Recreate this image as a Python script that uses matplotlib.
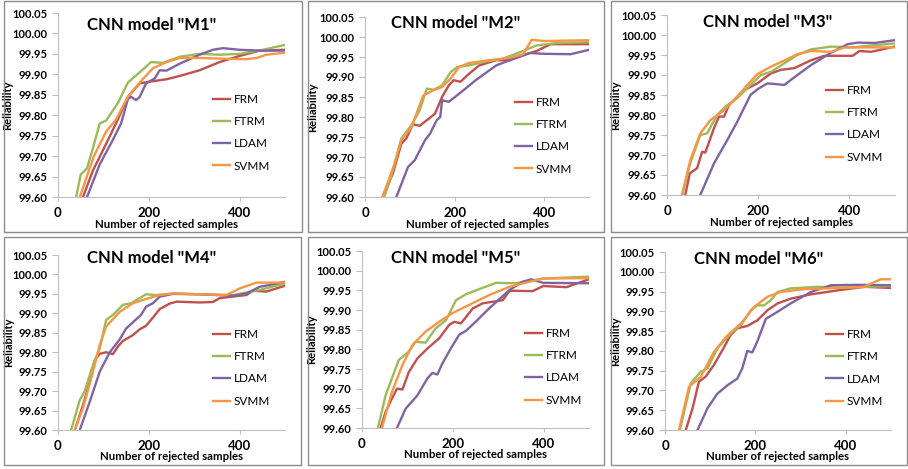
import matplotlib
matplotlib.use("Agg")
import matplotlib.pyplot as plt
from matplotlib.patches import Rectangle

plt.rcParams['font.family'] = ['Lato', 'DejaVu Sans']

series_names = ["FRM", "FTRM", "LDAM", "SVMM"]
series_colors = ["#C0504D", "#9BBB59", "#8064A2", "#F79646"]
panel_titles = ['CNN model "M1"', 'CNN model "M2"', 'CNN model "M3"',
                'CNN model "M4"', 'CNN model "M5"', 'CNN model "M6"']
y_ticks = [99.60, 99.65, 99.70, 99.75, 99.80, 99.85, 99.90, 99.95, 100.00, 100.05]
x_ticks = [0, 200, 400]
x_label = "Number of rejected samples"
y_label = "Reliability"

# ---------------- M1 ----------------
m1_frm_x = [55, 77, 106, 132, 154, 180, 202, 239, 268, 312, 356, 400, 444, 500]
m1_frm_y = [99.60, 99.665, 99.73, 99.79, 99.845, 99.878, 99.882, 99.888, 99.896, 99.91, 99.93, 99.945, 99.958, 99.96]
m1_ftrm_x = [40, 50, 64, 77, 92, 106, 132, 154, 180, 205, 231, 268, 312, 356, 400, 451, 500]
m1_ftrm_y = [99.60, 99.655, 99.67, 99.72, 99.78, 99.787, 99.83, 99.88, 99.905, 99.93, 99.928, 99.943, 99.95, 99.948, 99.95, 99.96, 99.972]
m1_ldam_x = [64, 92, 121, 139, 154, 161, 172, 180, 194, 213, 224, 239, 268, 312, 341, 363, 400, 444, 500]
m1_ldam_y = [99.60, 99.68, 99.74, 99.78, 99.84, 99.845, 99.837, 99.845, 99.878, 99.89, 99.91, 99.909, 99.926, 99.948, 99.96, 99.964, 99.96, 99.958, 99.958]
m1_svmm_x = [48, 79, 106, 128, 154, 180, 209, 239, 268, 312, 371, 415, 437, 459, 500]
m1_svmm_y = [99.60, 99.70, 99.76, 99.79, 99.845, 99.88, 99.915, 99.93, 99.94, 99.94, 99.938, 99.937, 99.94, 99.948, 99.953]

# ---------------- M2 ----------------
m2_frm_x = [39, 62, 81, 92, 107, 122, 138, 156, 172, 187, 198, 213, 232, 255, 293, 323, 346, 383, 414, 504]
m2_frm_y = [99.60, 99.658, 99.733, 99.746, 99.782, 99.778, 99.792, 99.808, 99.85, 99.879, 99.892, 99.888, 99.908, 99.929, 99.942, 99.942, 99.952, 99.965, 99.982, 99.982]
m2_ftrm_x = [43, 58, 81, 104, 122, 138, 153, 172, 191, 206, 232, 262, 308, 346, 383, 429, 504]
m2_ftrm_y = [99.60, 99.65, 99.746, 99.78, 99.817, 99.871, 99.868, 99.879, 99.912, 99.925, 99.929, 99.937, 99.946, 99.962, 99.979, 99.985, 99.987]
m2_ldam_x = [70, 96, 111, 134, 145, 160, 168, 172, 187, 210, 247, 293, 323, 368, 399, 459, 504]
m2_ldam_y = [99.60, 99.675, 99.692, 99.742, 99.758, 99.792, 99.80, 99.842, 99.838, 99.858, 99.892, 99.929, 99.942, 99.96, 99.958, 99.957, 99.969]
m2_svmm_x = [39, 66, 81, 104, 130, 153, 172, 191, 210, 232, 277, 323, 353, 372, 399, 504]
m2_svmm_y = [99.60, 99.683, 99.742, 99.775, 99.854, 99.867, 99.875, 99.896, 99.925, 99.935, 99.942, 99.948, 99.957, 99.993, 99.99, 99.992]

# ---------------- M3 ----------------
m3_frm_x = [40, 50, 66, 77, 84, 103, 114, 125, 136, 169, 198, 228, 250, 279, 316, 345, 389, 407, 422, 448, 499]
m3_frm_y = [99.60, 99.654, 99.667, 99.708, 99.706, 99.767, 99.796, 99.796, 99.825, 99.862, 99.879, 99.904, 99.913, 99.917, 99.937, 99.948, 99.948, 99.948, 99.96, 99.958, 99.971]
m3_ftrm_x = [33, 51, 73, 88, 110, 128, 154, 183, 206, 228, 257, 286, 316, 360, 404, 499]
m3_ftrm_y = [99.60, 99.679, 99.75, 99.754, 99.80, 99.821, 99.842, 99.875, 99.90, 99.908, 99.929, 99.95, 99.964, 99.971, 99.969, 99.979]
m3_ldam_x = [73, 103, 132, 154, 183, 198, 220, 242, 257, 286, 316, 360, 396, 418, 455, 499]
m3_ldam_y = [99.60, 99.679, 99.737, 99.783, 99.85, 99.864, 99.879, 99.877, 99.875, 99.90, 99.925, 99.956, 99.977, 99.981, 99.98, 99.987]
m3_svmm_x = [33, 51, 73, 95, 125, 154, 176, 198, 228, 257, 286, 316, 360, 389, 499]
m3_svmm_y = [99.60, 99.687, 99.754, 99.787, 99.812, 99.846, 99.875, 99.902, 99.921, 99.936, 99.952, 99.96, 99.958, 99.969, 99.969]

# ---------------- M4 ----------------
m4_frm_x = [37, 55, 70, 81, 92, 106, 121, 132, 143, 165, 180, 194, 209, 224, 246, 261, 312, 341, 356, 385, 415, 429, 459, 500]
m4_frm_y = [99.60, 99.664, 99.724, 99.78, 99.796, 99.80, 99.795, 99.815, 99.829, 99.844, 99.859, 99.868, 99.889, 99.911, 99.925, 99.93, 99.928, 99.929, 99.939, 99.943, 99.947, 99.958, 99.956, 99.971]
m4_ftrm_x = [29, 48, 59, 77, 92, 106, 121, 143, 161, 194, 216, 253, 312, 385, 444, 500]
m4_ftrm_y = [99.60, 99.677, 99.70, 99.767, 99.81, 99.883, 99.896, 99.922, 99.926, 99.949, 99.947, 99.951, 99.949, 99.947, 99.96, 99.977]
m4_ldam_x = [48, 70, 92, 114, 136, 150, 165, 183, 194, 209, 224, 253, 312, 385, 415, 444, 500]
m4_ldam_y = [99.60, 99.673, 99.75, 99.80, 99.833, 99.861, 99.877, 99.896, 99.917, 99.926, 99.943, 99.95, 99.949, 99.945, 99.951, 99.968, 99.981]
m4_svmm_x = [37, 55, 77, 92, 106, 136, 165, 194, 224, 253, 312, 371, 400, 437, 500]
m4_svmm_y = [99.60, 99.656, 99.75, 99.819, 99.866, 99.904, 99.926, 99.937, 99.947, 99.951, 99.949, 99.947, 99.964, 99.979, 99.979]

# ---------------- M5 ----------------
m5_frm_x = [41, 52, 66, 77, 89, 103, 122, 144, 170, 192, 203, 218, 244, 266, 310, 325, 376, 399, 450, 502]
m5_frm_y = [99.60, 99.641, 99.675, 99.70, 99.698, 99.742, 99.777, 99.802, 99.828, 99.862, 99.87, 99.866, 99.904, 99.917, 99.925, 99.949, 99.948, 99.961, 99.958, 99.979]
m5_ftrm_x = [35, 52, 81, 103, 118, 140, 162, 185, 207, 229, 258, 295, 339, 399, 502]
m5_ftrm_y = [99.60, 99.683, 99.773, 99.794, 99.819, 99.817, 99.853, 99.874, 99.925, 99.94, 99.953, 99.969, 99.968, 99.98, 99.985]
m5_ldam_x = [77, 96, 122, 144, 155, 166, 177, 196, 214, 229, 251, 280, 325, 354, 373, 399, 502]
m5_ldam_y = [99.60, 99.649, 99.683, 99.726, 99.74, 99.736, 99.764, 99.803, 99.837, 99.847, 99.871, 99.904, 99.951, 99.972, 99.978, 99.969, 99.968]
m5_svmm_x = [44, 66, 89, 111, 140, 170, 199, 236, 280, 325, 369, 399, 502]
m5_svmm_y = [99.60, 99.692, 99.76, 99.811, 99.845, 99.87, 99.892, 99.913, 99.938, 99.959, 99.972, 99.98, 99.981]

# ---------------- M6 ----------------
m6_frm_x = [46, 61, 75, 90, 108, 131, 145, 160, 182, 204, 227, 249, 278, 323, 382, 441, 500]
m6_frm_y = [99.60, 99.655, 99.722, 99.735, 99.764, 99.81, 99.84, 99.857, 99.863, 99.877, 99.903, 99.92, 99.932, 99.943, 99.953, 99.962, 99.959]
m6_ftrm_x = [33, 57, 79, 94, 116, 145, 168, 190, 204, 219, 234, 249, 278, 337, 395, 500]
m6_ftrm_y = [99.60, 99.718, 99.747, 99.756, 99.806, 99.844, 99.865, 99.903, 99.915, 99.915, 99.928, 99.949, 99.958, 99.962, 99.96, 99.964]
m6_ldam_x = [72, 94, 116, 138, 160, 171, 182, 193, 204, 223, 242, 278, 323, 367, 426, 500]
m6_ldam_y = [99.60, 99.655, 99.692, 99.713, 99.73, 99.756, 99.80, 99.796, 99.823, 99.881, 99.894, 99.92, 99.949, 99.966, 99.967, 99.966]
m6_svmm_x = [31, 53, 79, 108, 138, 168, 197, 227, 256, 308, 382, 441, 463, 477, 500]
m6_svmm_y = [99.60, 99.709, 99.734, 99.797, 99.839, 99.869, 99.911, 99.937, 99.949, 99.956, 99.959, 99.962, 99.974, 99.981, 99.981]

panels_data = [
    [(m1_frm_x, m1_frm_y), (m1_ftrm_x, m1_ftrm_y), (m1_ldam_x, m1_ldam_y), (m1_svmm_x, m1_svmm_y)],
    [(m2_frm_x, m2_frm_y), (m2_ftrm_x, m2_ftrm_y), (m2_ldam_x, m2_ldam_y), (m2_svmm_x, m2_svmm_y)],
    [(m3_frm_x, m3_frm_y), (m3_ftrm_x, m3_ftrm_y), (m3_ldam_x, m3_ldam_y), (m3_svmm_x, m3_svmm_y)],
    [(m4_frm_x, m4_frm_y), (m4_ftrm_x, m4_ftrm_y), (m4_ldam_x, m4_ldam_y), (m4_svmm_x, m4_svmm_y)],
    [(m5_frm_x, m5_frm_y), (m5_ftrm_x, m5_ftrm_y), (m5_ldam_x, m5_ldam_y), (m5_svmm_x, m5_svmm_y)],
    [(m6_frm_x, m6_frm_y), (m6_ftrm_x, m6_ftrm_y), (m6_ldam_x, m6_ldam_y), (m6_svmm_x, m6_svmm_y)],
]

W, H = 908, 469
fig = plt.figure(figsize=(W / 100, H / 100), dpi=100)
fig.patch.set_facecolor("white")

# layout in pixels (left, right, top, bottom)
axes_px = [(58, 285, 13, 197), (365, 589, 17, 197), (667, 895, 15, 195),
           (58, 285, 255, 430), (362, 589, 251, 428), (665, 891, 252, 430)]
border_px = [(4, 302, 1, 232), (308, 604, 1, 232), (611, 907, 1, 232),
             (4, 301, 237, 465), (308, 604, 237, 465), (611, 907, 237, 465)]
title_px = [(152, 25), (456, 23), (768, 22), (152, 258), (456, 258), (759, 259)]
legend_anchor = [(0.683, 0.56), (0.67, 0.556), (0.697, 0.611),
                 (0.683, 0.577), (0.718, 0.565), (0.712, 0.567)]
xlabel_x = [0.476, 0.5, 0.5, 0.498, 0.498, 0.5]
ylabel_x = [-0.198, -0.21, -0.20, -0.194, -0.198, -0.195]

for (l, r, t, b) in border_px:
    fig.patches.append(Rectangle((l / W, 1 - b / H), (r - l) / W, (b - t) / H,
                                 transform=fig.transFigure, fill=False,
                                 edgecolor="#8C8C8C", linewidth=1.0))

axis_grey = "#BFBFBF"
for i in range(6):
    l, r, t, b = axes_px[i]
    ax = fig.add_axes([l / W, 1 - b / H, (r - l) / W, (b - t) / H])
    for k, (xs, ys) in enumerate(panels_data[i]):
        ax.plot(xs, ys, color=series_colors[k], linewidth=1.7,
                label=series_names[k], solid_joinstyle="round")
    ax.set_xlim(0, 500)
    ax.set_ylim(99.60, 100.05)
    ax.set_yticks(y_ticks)
    ax.set_yticklabels([f"{v:.2f}" for v in y_ticks], fontsize=8, fontweight="bold")
    ax.set_xticks(x_ticks)
    ax.set_xticklabels([str(v) for v in x_ticks], fontsize=9.5, fontweight="bold")
    for s in ("top", "right"):
        ax.spines[s].set_visible(False)
    for s in ("left", "bottom"):
        ax.spines[s].set_color(axis_grey)
        ax.spines[s].set_linewidth(0.8)
    ax.tick_params(axis="y", direction="out", length=4, width=0.8, color=axis_grey, pad=3.5)
    ax.tick_params(axis="x", direction="out", length=3, width=0.8, color=axis_grey, pad=4)
    ax.set_xlabel(x_label, fontsize=8.2, fontweight="bold")
    ax.xaxis.set_label_coords(xlabel_x[i], -0.12)
    ax.set_ylabel(y_label, fontsize=8, fontweight="bold")
    ax.yaxis.set_label_coords(ylabel_x[i], 0.5)
    ax.legend(loc="upper left", bbox_to_anchor=legend_anchor[i], frameon=False,
              fontsize=8.5, handlelength=1.45, handletextpad=0.3, labelspacing=0.95,
              borderpad=0, borderaxespad=0)
    tx, ty = title_px[i]
    fig.text(tx / W, 1 - ty / H, panel_titles[i], fontsize=12, fontweight="bold",
             ha="center", va="center")

fig.savefig("out.png", dpi=100, facecolor="white")
